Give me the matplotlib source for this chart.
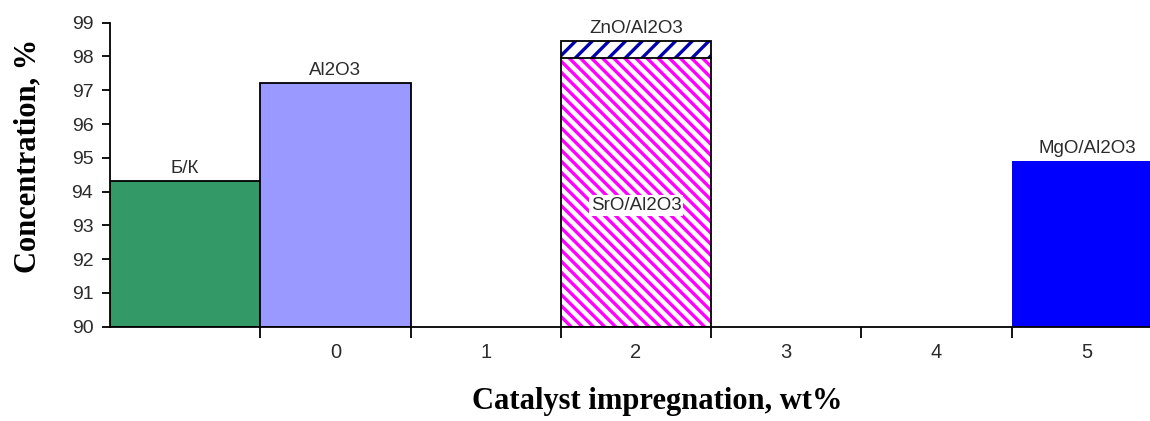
import matplotlib
matplotlib.use("Agg")
import matplotlib.pyplot as plt
from matplotlib.ticker import FixedLocator, NullFormatter, FixedFormatter

# Category slots along the x axis (first slot is the blank catalyst)
categories = ["", "0", "1", "2", "3", "4", "5"]

# Bars: label, slot index, concentration (%)
bar_names = ["Б/К", "Al2O3", "ZnO/Al2O3", "SrO/Al2O3", "MgO/Al2O3"]
bar_slots = [0, 1, 3, 3, 6]
bar_values = [94.3, 97.2, 98.45, 97.95, 94.9]

y_ticks = [90, 91, 92, 93, 94, 95, 96, 97, 98, 99]
baseline = 90

plt.rcParams["hatch.linewidth"] = 2.4

fig = plt.figure(figsize=(11.5, 4.21), dpi=100)
fig.patch.set_facecolor("white")
ax = fig.add_axes([110 / 1150, 1 - 326.7 / 421, 1052 / 1150, (326.7 - 22.7) / 421])

sans = "Liberation Sans"
serif = "Liberation Serif"
text_col = "#2b2b2b"

styles = {
    "Б/К": dict(facecolor="#339966", edgecolor="black", linewidth=1.3),
    "Al2O3": dict(facecolor="#9999ff", edgecolor="black", linewidth=1.3),
    "ZnO/Al2O3": dict(facecolor="white", edgecolor="#0000b0", hatch="//", linewidth=0),
    "SrO/Al2O3": dict(facecolor="white", edgecolor="#ff00ff", hatch="\\\\\\", linewidth=0),
    "MgO/Al2O3": dict(facecolor="#0000ff", edgecolor="#0000ff", linewidth=0),
}

rects = {}
for name, slot, val in zip(bar_names, bar_slots, bar_values):
    r = ax.bar(slot + 0.5, val - baseline, width=1.0, bottom=baseline,
               zorder=2, **styles[name])
    rects[name] = r[0]

# black outline around the stacked ZnO / SrO column
zn = rects["ZnO/Al2O3"]
ax.bar(zn.get_x() + zn.get_width() / 2, zn.get_height(), width=zn.get_width(),
       bottom=baseline, facecolor="none", edgecolor="black", linewidth=1.3, zorder=3)
sr = rects["SrO/Al2O3"]
ax.plot([sr.get_x(), sr.get_x() + sr.get_width()],
        [baseline + sr.get_height()] * 2, color="black", lw=1.3, zorder=3)

# value labels
lab_kw = dict(fontsize=13.5, family=sans, color=text_col, ha="center", va="bottom")
for name in ["Б/К", "Al2O3", "ZnO/Al2O3", "MgO/Al2O3"]:
    r = rects[name]
    ax.text(r.get_x() + r.get_width() / 2, baseline + r.get_height() + 0.13, name, **lab_kw)
ax.text(sr.get_x() + sr.get_width() / 2, 93.6, "SrO/Al2O3", fontsize=13.5,
        family=sans, color=text_col, ha="center", va="center", zorder=4,
        bbox=dict(facecolor="white", edgecolor="none", pad=1.5))

ax.set_xlim(0, len(categories))
ax.set_ylim(y_ticks[0], y_ticks[-1])
ax.set_yticks(y_ticks)
ax.set_yticklabels([str(v) for v in y_ticks], family=sans, fontsize=14, color=text_col)

# tick marks on slot boundaries, labels centred in each slot
ax.xaxis.set_major_locator(FixedLocator(range(1, len(categories))))
ax.xaxis.set_major_formatter(NullFormatter())
ax.xaxis.set_minor_locator(FixedLocator([i + 0.5 for i in range(len(categories))]))
ax.xaxis.set_minor_formatter(FixedFormatter(categories))
ax.tick_params(axis="x", which="major", direction="out", length=8, width=1.3, color="black")
ax.tick_params(axis="x", which="minor", length=0, pad=12, labelsize=14.5, labelcolor=text_col)
for t in ax.xaxis.get_minorticklabels():
    t.set_family(sans)
ax.tick_params(axis="y", direction="out", length=6, width=1.3, color="black", pad=6)

for side in ["top", "right"]:
    ax.spines[side].set_visible(False)
for side in ["left", "bottom"]:
    ax.spines[side].set_linewidth(1.3)
    ax.spines[side].set_zorder(5)

fig.text(28 / 1150, 1 - 156 / 421, "Concentration, %", family=serif, fontweight="bold",
         fontsize=22, rotation=90, ha="center", va="center")
fig.text(657 / 1150, 1 - 401 / 421, "Catalyst impregnation, wt%", family=serif,
         fontweight="bold", fontsize=22, ha="center", va="center")

fig.savefig("out.png", dpi=100, facecolor="white")
